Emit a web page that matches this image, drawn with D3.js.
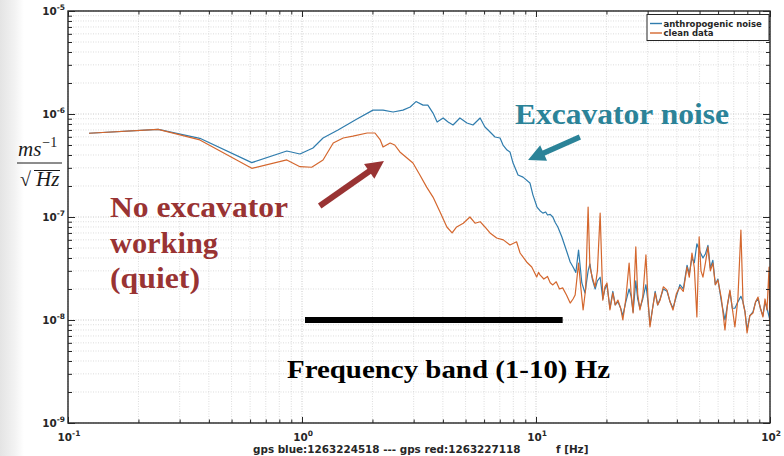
<!DOCTYPE html>
<html>
<head>
<meta charset="utf-8">
<script src="https://cdn.jsdelivr.net/npm/d3@7"></script>
<style>
  body { margin: 0; background: #fff; }
  svg { display: block; }
  .grid-minor { stroke: #d4d4d4; stroke-width: 0.8; stroke-dasharray: 1,1.5; }
  .grid-major { stroke: #c4c4c4; stroke-width: 0.9; stroke-dasharray: 1,1.5; }
  .tick-label { font-family: "DejaVu Sans", sans-serif; font-weight: bold; fill: #262626; }
  .note { font-family: "Liberation Serif", "Times New Roman", serif; font-weight: bold; }
</style>
</head>
<body>
<svg id="chart" width="784" height="456"></svg>
<script>
// amplitude spectral density, m/s/sqrt(Hz)
var noiseFreq = [0.123,0.243,0.366,0.610,0.861,0.98,1.114,1.23,1.425,1.71,2.01,2.22,2.45,2.70,2.90,3.07,3.29,3.45,3.63,3.78,4.01,4.21,4.42,4.73,5.07,5.38,5.77,6.05,6.24,6.68,7.02,7.23,7.52,7.74,7.98,8.38,8.80,9.42,9.70,10.1,10.4,10.7,11.0,11.2,11.5,11.8,12.1,12.4,12.9,13.3,13.6,14.0,14.4,14.8,15.2,15.7,16.2,16.7,17.0,17.4,17.9,18.3,18.8,19.3,19.7,20.1,20.7,21.3,21.8,22.4,23.0,23.5,24.2,25.0,25.5,26.0,26.7,27.2,27.8,28.6,29.5,30.1,30.7,31.5,32.3,33.1,33.9,35.0,36.3,37.4,38.5,39.8,41.2,42.6,44.2,45.2,46.4,47.5,48.7,50.2,51.7,53.0,54.3,55.6,57.0,58.4,59.9,62.0,64.2,65.8,67.4,69.0,70.8,72.9,75.1,76.7,78.2,79.8,82.0,84.6,86.8,88.9,91.0,93.3,95.2,97.1,99.9];
var noiseAsd = [6.5e-7,7.1e-7,5.81e-7,3.37e-7,4.37e-7,4.09e-7,4.68e-7,5.85e-7,7.0e-7,8.9e-7,1.09e-6,1.09e-6,1.045e-6,1.09e-6,1.17e-6,1.32e-6,1.22e-6,1.22e-6,1.02e-6,8.36e-7,9.15e-7,8.36e-7,7.82e-7,9.15e-7,8.18e-7,7.82e-7,9.15e-7,7.48e-7,7.0e-7,5.98e-7,5.85e-7,5.0e-7,4.47e-7,4.28e-7,3.34e-7,2.56e-7,2.44e-7,2.14e-7,1.64e-7,1.25e-7,1.15e-7,1.09e-7,1.12e-7,1.045e-7,1.06e-7,1.0e-7,8.8e-8,8.0e-8,6.4e-8,5.2e-8,4.47e-8,3.66e-8,3.27e-8,2.9e-8,4.78e-8,2.29e-8,1.83e-8,3.0e-8,3.5e-8,2.5e-8,2.0e-8,2.4e-8,2.6e-8,1.6e-8,2.0e-8,2.2e-8,1.3e-8,1.9e-8,1.4e-8,1.5e-8,1.3e-8,1.1e-8,1.5e-8,2.0e-8,1.7e-8,1.2e-8,2.4e-8,1.6e-8,1.3e-8,1.6e-8,2.2e-8,1.5e-8,9e-9,1.3e-8,1.9e-8,1.4e-8,1.6e-8,2.0e-8,1.9e-8,1.5e-8,1.3e-8,1.7e-8,2.2e-8,2.0e-8,3.4e-8,2.8e-8,4.0e-8,3.6e-8,5.5e-8,4.6e-8,4.0e-8,4.4e-8,5.3e-8,3.2e-8,3.8e-8,2.2e-8,2.5e-8,1.5e-8,1.0e-8,1.4e-8,1.9e-8,1.3e-8,1.3e-8,1.5e-8,1.7e-8,1.5e-8,1.2e-8,8e-9,1.1e-8,1.2e-8,1.5e-8,1.6e-8,1.3e-8,1.1e-8,1.5e-8,1.3e-8,1.0e-8];

var cleanFreq = [0.123,0.243,0.366,0.610,0.861,0.98,1.10,1.23,1.36,1.50,1.65,1.90,2.05,2.16,2.22,2.38,2.49,2.62,2.81,2.98,3.19,3.41,3.63,3.89,4.16,4.38,4.58,4.89,5.22,5.49,5.77,6.05,6.36,6.79,7.25,7.74,8.26,8.55,9.12,9.59,10.07,10.25,10.4,10.8,11.2,11.5,11.8,12.2,12.6,13.0,13.5,14.0,14.4,14.7,15.2,15.5,15.9,16.3,16.7,17.0,17.4,17.9,18.3,18.8,19.3,19.7,20.1,20.7,21.3,21.8,22.4,23.0,23.5,24.2,25.0,25.5,26.0,26.7,27.2,27.8,28.6,29.5,30.1,30.7,31.5,32.3,33.1,33.9,35.0,36.3,37.4,38.5,39.8,41.2,42.6,44.2,45.2,46.4,47.5,48.7,49.8,50.7,51.7,53.0,54.3,55.6,57.0,58.4,59.9,62.0,64.2,65.8,67.4,69.0,70.8,72.9,75.1,76.7,78.2,79.8,82.0,84.6,86.8,88.9,91.0,93.3,95.2,97.1,99.1,99.9];
var cleanAsd = [6.5e-7,7.1e-7,5.6e-7,2.97e-7,3.58e-7,3.08e-7,3.04e-7,3.58e-7,5.23e-7,5.85e-7,6.1e-7,6.54e-7,6.54e-7,5.6e-7,4.78e-7,5.23e-7,5.0e-7,4.28e-7,3.74e-7,3.34e-7,2.56e-7,1.95e-7,1.56e-7,1.12e-7,8.0e-8,7.0e-8,8.0e-8,8.7e-8,1.0e-7,8.7e-8,9.0e-8,8.0e-8,7.0e-8,6.25e-8,6.0e-8,5.35e-8,5.75e-8,4.47e-8,3.66e-8,3.27e-8,2.61e-8,2.9e-8,2.74e-8,2.5e-8,2.65e-8,2.3e-8,2.19e-8,2.35e-8,2.0e-8,2.05e-8,1.75e-8,1.46e-8,1.6e-8,1.75e-8,3.57e-8,2.2e-8,1.25e-8,2.0e-8,1.25e-7,3.27e-8,2.6e-8,2.09e-8,3.0e-8,1.09e-7,1.56e-8,2.1e-8,2.29e-8,1.25e-8,1.83e-8,1.4e-8,1.56e-8,1.3e-8,1.0e-8,1.6e-8,3.57e-8,1.8e-8,1.17e-8,5.12e-8,1.8e-8,1.25e-8,1.7e-8,4.28e-8,1.6e-8,8.55e-9,1.3e-8,1.83e-8,1.4e-8,1.56e-8,2.1e-8,1.95e-8,1.5e-8,1.25e-8,1.8e-8,2.09e-8,1.9e-8,3.27e-8,2.6e-8,4.47e-8,3.2e-8,1.07e-8,6.4e-8,3.0e-8,2.61e-8,3.6e-8,5.12e-8,3.0e-8,3.57e-8,2.2e-8,2.44e-8,1.6e-8,8.0e-9,1.4e-8,1.95e-8,1.3e-8,8.55e-9,1.6e-8,7.48e-8,1.46e-8,1.2e-8,7.48e-9,1.1e-8,1.17e-8,1.5e-8,1.67e-8,1.3e-8,1.07e-8,1.6e-8,1.25e-8,3.27e-8,9e-9];

var xTicks = [0.1, 1, 10, 100];
var xTickExp = ["-1", "0", "1", "2"];
var yTicks = [1e-9, 1e-8, 1e-7, 1e-6, 1e-5];
var yTickExp = ["-9", "-8", "-7", "-6", "-5"];
var legendNames = ["anthropogenic noise", "clean data"];
var seriesColors = ["#2f7cad", "#d4672e"];

var width = 784, height = 456;
var plot = { left: 68, right: 770, top: 11, bottom: 423 };

var x = d3.scaleLog().domain([0.1, 100]).range([plot.left, plot.right]);
var y = d3.scaleLog().domain([1e-9, 1e-5]).range([plot.bottom, plot.top]);

var svg = d3.select("#chart");

// slide shadow on the left edge
var defs = svg.append("defs");
var grad = defs.append("linearGradient").attr("id", "edge-shade");
grad.append("stop").attr("offset", "0%").attr("stop-color", "#e4e4e4");
grad.append("stop").attr("offset", "60%").attr("stop-color", "#f2f2f2");
grad.append("stop").attr("offset", "100%").attr("stop-color", "#ffffff");
svg.append("rect").attr("x", 0).attr("y", 0).attr("width", 24).attr("height", height)
    .attr("fill", "url(#edge-shade)");

// minor / major values per decade
function minorValues(lo, hi) {
    var out = [];
    for (var e = lo; e < hi; e++) {
        for (var m = 2; m <= 9; m++) out.push(m * Math.pow(10, e));
    }
    return out;
}
var xMinor = minorValues(-1, 2);
var yMinor = minorValues(-9, -5);

// grid
var grid = svg.append("g").classed("grid", true);
grid.selectAll("line.gx-minor").data(xMinor).enter().append("line")
    .attr("class", "grid-minor")
    .attr("x1", function (d) { return x(d); }).attr("x2", function (d) { return x(d); })
    .attr("y1", plot.top).attr("y2", plot.bottom);
grid.selectAll("line.gy-minor").data(yMinor).enter().append("line")
    .attr("class", "grid-minor")
    .attr("x1", plot.left).attr("x2", plot.right)
    .attr("y1", function (d) { return y(d); }).attr("y2", function (d) { return y(d); });
grid.selectAll("line.gx-major").data(xTicks).enter().append("line")
    .attr("class", "grid-major")
    .attr("x1", function (d) { return x(d); }).attr("x2", function (d) { return x(d); })
    .attr("y1", plot.top).attr("y2", plot.bottom);
grid.selectAll("line.gy-major").data(yTicks).enter().append("line")
    .attr("class", "grid-major")
    .attr("x1", plot.left).attr("x2", plot.right)
    .attr("y1", function (d) { return y(d); }).attr("y2", function (d) { return y(d); });

// curves
var line = d3.line()
    .x(function (d) { return x(d[0]); })
    .y(function (d) { return y(d[1]); });
var curves = svg.append("g").classed("curves", true)
    .attr("clip-path", "url(#plot-clip)");
defs.append("clipPath").attr("id", "plot-clip").append("rect")
    .attr("x", plot.left).attr("y", plot.top)
    .attr("width", plot.right - plot.left).attr("height", plot.bottom - plot.top);
curves.append("path")
    .datum(d3.zip(noiseFreq, noiseAsd))
    .attr("d", line)
    .attr("fill", "none").attr("stroke", seriesColors[0]).attr("stroke-width", 1.2)
    .attr("stroke-linejoin", "round");
curves.append("path")
    .datum(d3.zip(cleanFreq, cleanAsd))
    .attr("d", line)
    .attr("fill", "none").attr("stroke", seriesColors[1]).attr("stroke-width", 1.2)
    .attr("stroke-linejoin", "round");

// axes: ticks pointing inward on all four sides (box on)
function tickAxis(axisFn, scale, values, size, tx, ty) {
    svg.append("g")
        .attr("transform", "translate(" + tx + "," + ty + ")")
        .call(axisFn(scale).tickValues(values).tickSize(size).tickFormat(""))
        .call(function (g) {
            g.select(".domain").remove();
            g.selectAll(".tick line").attr("stroke", "#262626").attr("stroke-width", 1);
        });
}
tickAxis(d3.axisBottom, x, xTicks, -6, 0, plot.bottom);
tickAxis(d3.axisBottom, x, xMinor, -3.5, 0, plot.bottom);
tickAxis(d3.axisTop, x, xTicks, -6, 0, plot.top);
tickAxis(d3.axisTop, x, xMinor, -3.5, 0, plot.top);
tickAxis(d3.axisLeft, y, yTicks, -7, plot.left, 0);
tickAxis(d3.axisLeft, y, yMinor, -4, plot.left, 0);
tickAxis(d3.axisRight, y, yTicks, -7, plot.right, 0);
tickAxis(d3.axisRight, y, yMinor, -4, plot.right, 0);

svg.append("rect")
    .attr("x", plot.left).attr("y", plot.top)
    .attr("width", plot.right - plot.left).attr("height", plot.bottom - plot.top)
    .attr("fill", "none").attr("stroke", "#262626").attr("stroke-width", 1.4);

// tick labels
var xl = svg.append("g");
xTicks.forEach(function (v, i) {
    var t = xl.append("text").attr("class", "tick-label")
        .attr("x", x(v) + 1).attr("y", 441).attr("text-anchor", "middle")
        .style("font-size", "10.4px");
    t.append("tspan").text("10");
    t.append("tspan").attr("dy", -5).style("font-size", "7.5px").text(xTickExp[i]);
});
var yl = svg.append("g");
yTicks.forEach(function (v, i) {
    var t = yl.append("text").attr("class", "tick-label")
        .attr("x", 65).attr("y", y(v) + 4).attr("text-anchor", "end")
        .style("font-size", "10.4px");
    t.append("tspan").text("10");
    t.append("tspan").attr("dy", -5).style("font-size", "7.5px").text(yTickExp[i]);
});

svg.append("text").attr("class", "tick-label")
    .attr("x", 253).attr("y", 453).style("font-size", "10.4px")
    .text("gps blue:1263224518 --- gps red:1263227118");
svg.append("text").attr("class", "tick-label")
    .attr("x", 556).attr("y", 453).style("font-size", "10.4px")
    .text("f [Hz]");

// y label (LaTeX style fraction)
var ylab = svg.append("g").style("font-family", "'Liberation Serif', serif").style("fill", "#1a1a1a");
var num = ylab.append("text").attr("x", 18).attr("y", 156).style("font-size", "21px").style("font-style", "italic");
num.append("tspan").text("ms");
num.append("tspan").attr("dy", -9).attr("dx", 1).style("font-size", "14px").style("font-style", "normal").text("\u22121");
ylab.append("line").attr("x1", 17).attr("x2", 62).attr("y1", 163).attr("y2", 163)
    .attr("stroke", "#1a1a1a").attr("stroke-width", 1);
ylab.append("text").attr("x", 20).attr("y", 186).style("font-size", "20px").text("\u221A");
ylab.append("line").attr("x1", 34).attr("x2", 60).attr("y1", 170.5).attr("y2", 170.5)
    .attr("stroke", "#1a1a1a").attr("stroke-width", 1);
ylab.append("text").attr("x", 36).attr("y", 186).style("font-size", "21px").style("font-style", "italic").text("Hz");

// legend
var legend = svg.append("g");
legend.append("rect").attr("x", 647).attr("y", 14.5).attr("width", 122).attr("height", 26)
    .attr("fill", "#fff").attr("stroke", "#262626").attr("stroke-width", 1);
legendNames.forEach(function (name, i) {
    var ly = 23.5 + i * 9.5;
    legend.append("line").attr("x1", 650).attr("x2", 662).attr("y1", ly).attr("y2", ly)
        .attr("stroke", seriesColors[i]).attr("stroke-width", 1.4);
    legend.append("text").attr("class", "tick-label").attr("x", 663.5).attr("y", ly + 3)
        .style("font-size", "8.5px").text(name);
});

// annotations
function arrow(g, f1, a1, f2, a2, color, w, headLen, headW) {
    var x1 = x(f1), y1 = y(a1), x2 = x(f2), y2 = y(a2);
    var dx = x2 - x1, dy = y2 - y1, len = Math.sqrt(dx * dx + dy * dy);
    var ux = dx / len, uy = dy / len;
    var bx = x2 - ux * headLen, by = y2 - uy * headLen;
    g.append("line").attr("x1", x1).attr("y1", y1).attr("x2", bx + ux).attr("y2", by + uy)
        .attr("stroke", color).attr("stroke-width", w);
    g.append("path")
        .attr("d", "M" + x2 + "," + y2 +
            "L" + (bx - uy * headW / 2) + "," + (by + ux * headW / 2) +
            "L" + (bx + uy * headW / 2) + "," + (by - ux * headW / 2) + "Z")
        .attr("fill", color);
}
var notes = svg.append("g");
arrow(notes, 15.4, 5.98e-7, 9.25, 3.58e-7, "#2b8398", 5.5, 17, 17);
arrow(notes, 1.19, 1.28e-7, 2.24, 3.5e-7, "#993333", 6, 18, 18);

// frequency band bar
notes.append("line")
    .attr("x1", x(1.03)).attr("x2", x(13.0))
    .attr("y1", y(1e-8)).attr("y2", y(1e-8))
    .attr("stroke", "#000").attr("stroke-width", 6);

notes.append("text").attr("class", "note").attr("x", 515).attr("y", 124)
    .attr("textLength", 214).attr("lengthAdjust", "spacingAndGlyphs")
    .style("font-size", "29px").style("fill", "#2b8398")
    .text("Excavator noise");
var red = ["No excavator", "working", "(quiet)"];
var redW = [178, 108, 90];
var redY = [217, 253, 288];
red.forEach(function (s, i) {
    notes.append("text").attr("class", "note").attr("x", 110).attr("y", redY[i])
        .attr("textLength", redW[i]).attr("lengthAdjust", "spacingAndGlyphs")
        .style("font-size", "29px").style("fill", "#993333")
        .text(s);
});
notes.append("text").attr("class", "note").attr("x", 287).attr("y", 378)
    .attr("textLength", 323).attr("lengthAdjust", "spacingAndGlyphs")
    .style("font-size", "26px").style("fill", "#000")
    .text("Frequency band (1-10) Hz");
</script>
</body>
</html>
